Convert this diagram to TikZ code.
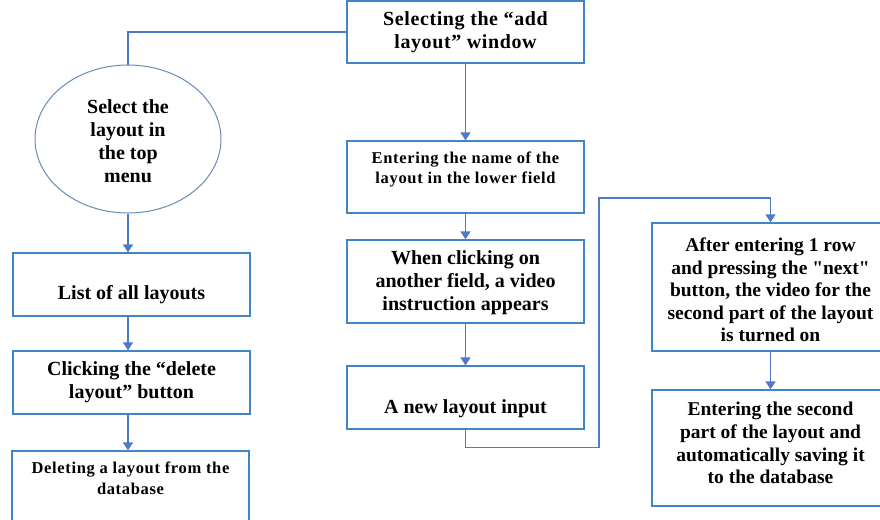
\documentclass[tikz,border=0pt]{standalone}
\usepackage{fontspec}
\setmainfont{Liberation Serif}
\usetikzlibrary{arrows.meta,shapes.geometric}
\definecolor{boxblue}{RGB}{66,133,198}
\definecolor{lineblue}{RGB}{80,120,200}
\definecolor{ellblue}{RGB}{105,140,180}
\begin{document}
\begin{tikzpicture}[x=1pt,y=-1pt,
 box/.style={draw=boxblue,line width=1.3pt,inner sep=0pt,fill=white},
 txt/.style={align=center,font=\bfseries\fontsize{20}{23}\selectfont,inner sep=0pt},
 smalltxt/.style={align=center,font=\bfseries\fontsize{16.5}{20.5}\selectfont\addfontfeature{LetterSpace=4},inner sep=0pt},
 conn/.style={draw=lineblue,line width=1.6pt,-{Triangle[width=10pt,length=8pt]}},
 plain/.style={draw=lineblue,line width=1.6pt},
]
\useasboundingbox (0,0) rectangle (880,519);
\fill[white] (0,0) rectangle (880,519);
\begin{scope}
\clip (0,0) rectangle (880,519);
% boxes
\node[box, minimum width=237pt, minimum height=62pt] (sel) at (465.5,32) {};
\node[ellipse, draw=ellblue, line width=1pt, minimum width=186pt, minimum height=148pt, inner sep=0pt] (menu) at (128,139) {};
\node[box, minimum width=237pt, minimum height=63pt] (list) at (131.5,284.5) {};
\node[box, minimum width=237pt, minimum height=63pt] (del) at (131.5,382.5) {};
\node[box, minimum width=237pt, minimum height=90pt] (dbox) at (130.5,496) {};
\node[box, minimum width=237pt, minimum height=72pt] (name) at (465.5,177) {};
\node[box, minimum width=237pt, minimum height=83pt] (click) at (465.5,281.5) {};
\node[box, minimum width=237pt, minimum height=63pt] (newin) at (465.5,397.5) {};
\node[box, minimum width=237pt, minimum height=128pt] (after) at (770.5,287) {};
\node[box, minimum width=237pt, minimum height=116pt] (save) at (770.5,448) {};
% texts
\node[txt,font=\bfseries\fontsize{20}{23.5}\selectfont\addfontfeature{LetterSpace=3}] (tsel) at (465.5,32) {Selecting the “add\\layout” window};
\node[txt] (tmenu) at (128,141) {Select the\\layout in\\the top\\menu};
\node[txt] (tlist) at (131.5,295) {List of all layouts};
\node[txt] (tdel) at (131.5,382.5) {Clicking the “delete\\layout” button};
\node[smalltxt] (tdbox) at (130.5,478.5) {Deleting a layout from the\\database};
\node[smalltxt] (tname) at (465.5,169.5) {Entering the name of the\\layout in the lower field};
\node[txt] (tclick) at (465.5,283) {When clicking on\\another field, a video\\instruction appears};
\node[txt] (tnewin) at (465.5,409) {A new layout input};
\node[txt,font=\bfseries\fontsize{19.5}{22.5}\selectfont] (tafter) at (770.5,290) {After entering 1 row\\and pressing the \textquotedbl next\textquotedbl\\button, the video for the\\second part of the layout\\is turned on};
\node[txt,font=\bfseries\fontsize{19.5}{22.8}\selectfont] (tsave) at (770.5,443) {Entering the second\\part of the layout and\\automatically saving it\\to the database};
% connectors
\draw[plain] (sel.west) -| (menu.north);
\draw[conn] (menu.south) -- (menu.south |- list.north);
\draw[conn] (list.south -| menu.south) -- (menu.south |- del.north);
\draw[conn] (del.south -| menu.south) -- (menu.south |- dbox.north);
\draw[conn] (sel.south) -- (name.north);
\draw[conn] (name.south) -- (click.north);
\draw[conn] (click.south) -- (newin.north);
\coordinate (bend) at (599,198);
\draw[conn] (newin.south) -- ++(0,18) -| (bend) -| (after.north);
\draw[conn] (after.south) -- (save.north);
\end{scope}
\end{tikzpicture}
\end{document}
